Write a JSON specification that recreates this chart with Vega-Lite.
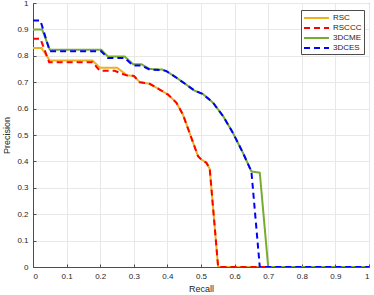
{
  "$schema": "https://vega.github.io/schema/vega-lite/v6.json",
  "width": 336,
  "height": 264,
  "autosize": {"type": "none"},
  "padding": {"left": 33, "top": 3, "right": 5, "bottom": 28},
  "background": "white",
  "config": {
    "view": {"stroke": "#4d4d4d", "strokeWidth": 1},
    "font": "Liberation Sans",
    "axis": {
      "gridColor": "#e8e8e8",
      "gridWidth": 1,
      "domainColor": "#4d4d4d",
      "tickColor": "#4d4d4d",
      "tickSize": -3,
      "labelFont": "Liberation Sans",
      "labelFontSize": 8,
      "labelColor": "#262626",
      "titleFont": "Liberation Sans",
      "titleFontSize": 9,
      "titleFontWeight": "normal",
      "titleColor": "#262626"
    }
  },
  "data": {
    "values": [
      {"s": "RSC", "r": 0, "p": 0.83},
      {"s": "RSC", "r": 0.025, "p": 0.83},
      {"s": "RSC", "r": 0.05, "p": 0.782},
      {"s": "RSC", "r": 0.177, "p": 0.782},
      {"s": "RSC", "r": 0.199, "p": 0.755},
      {"s": "RSC", "r": 0.25, "p": 0.755},
      {"s": "RSC", "r": 0.28, "p": 0.726},
      {"s": "RSC", "r": 0.3, "p": 0.724},
      {"s": "RSC", "r": 0.318, "p": 0.70},
      {"s": "RSC", "r": 0.347, "p": 0.694},
      {"s": "RSC", "r": 0.377, "p": 0.672},
      {"s": "RSC", "r": 0.402, "p": 0.653},
      {"s": "RSC", "r": 0.427, "p": 0.622},
      {"s": "RSC", "r": 0.446, "p": 0.578},
      {"s": "RSC", "r": 0.466, "p": 0.508},
      {"s": "RSC", "r": 0.491, "p": 0.42},
      {"s": "RSC", "r": 0.501, "p": 0.407},
      {"s": "RSC", "r": 0.516, "p": 0.395},
      {"s": "RSC", "r": 0.526, "p": 0.372},
      {"s": "RSC", "r": 0.551, "p": 0},
      {"s": "RSC", "r": 1, "p": 0},
      {"s": "RSCCC", "r": 0, "p": 0.865},
      {"s": "RSCCC", "r": 0.022, "p": 0.865},
      {"s": "RSCCC", "r": 0.048, "p": 0.776},
      {"s": "RSCCC", "r": 0.177, "p": 0.776},
      {"s": "RSCCC", "r": 0.199, "p": 0.743},
      {"s": "RSCCC", "r": 0.243, "p": 0.743},
      {"s": "RSCCC", "r": 0.278, "p": 0.726},
      {"s": "RSCCC", "r": 0.3, "p": 0.724},
      {"s": "RSCCC", "r": 0.318, "p": 0.70},
      {"s": "RSCCC", "r": 0.347, "p": 0.694},
      {"s": "RSCCC", "r": 0.377, "p": 0.672},
      {"s": "RSCCC", "r": 0.402, "p": 0.653},
      {"s": "RSCCC", "r": 0.427, "p": 0.622},
      {"s": "RSCCC", "r": 0.446, "p": 0.578},
      {"s": "RSCCC", "r": 0.466, "p": 0.508},
      {"s": "RSCCC", "r": 0.491, "p": 0.42},
      {"s": "RSCCC", "r": 0.501, "p": 0.407},
      {"s": "RSCCC", "r": 0.516, "p": 0.395},
      {"s": "RSCCC", "r": 0.526, "p": 0.372},
      {"s": "RSCCC", "r": 0.551, "p": 0},
      {"s": "RSCCC", "r": 1, "p": 0},
      {"s": "3DCME", "r": 0, "p": 0.9},
      {"s": "3DCME", "r": 0.027, "p": 0.9},
      {"s": "3DCME", "r": 0.05, "p": 0.823},
      {"s": "3DCME", "r": 0.203, "p": 0.823},
      {"s": "3DCME", "r": 0.223, "p": 0.797},
      {"s": "3DCME", "r": 0.273, "p": 0.797},
      {"s": "3DCME", "r": 0.298, "p": 0.768},
      {"s": "3DCME", "r": 0.323, "p": 0.768},
      {"s": "3DCME", "r": 0.347, "p": 0.75},
      {"s": "3DCME", "r": 0.385, "p": 0.748},
      {"s": "3DCME", "r": 0.397, "p": 0.742},
      {"s": "3DCME", "r": 0.427, "p": 0.717},
      {"s": "3DCME", "r": 0.457, "p": 0.69},
      {"s": "3DCME", "r": 0.481, "p": 0.668},
      {"s": "3DCME", "r": 0.506, "p": 0.655},
      {"s": "3DCME", "r": 0.536, "p": 0.622},
      {"s": "3DCME", "r": 0.566, "p": 0.571},
      {"s": "3DCME", "r": 0.595, "p": 0.508},
      {"s": "3DCME", "r": 0.625, "p": 0.432},
      {"s": "3DCME", "r": 0.65, "p": 0.362},
      {"s": "3DCME", "r": 0.675, "p": 0.357},
      {"s": "3DCME", "r": 0.70, "p": 0},
      {"s": "3DCME", "r": 1, "p": 0},
      {"s": "3DCES", "r": 0, "p": 0.934},
      {"s": "3DCES", "r": 0.022, "p": 0.934},
      {"s": "3DCES", "r": 0.05, "p": 0.817},
      {"s": "3DCES", "r": 0.203, "p": 0.817},
      {"s": "3DCES", "r": 0.223, "p": 0.792},
      {"s": "3DCES", "r": 0.273, "p": 0.792},
      {"s": "3DCES", "r": 0.298, "p": 0.763},
      {"s": "3DCES", "r": 0.323, "p": 0.763},
      {"s": "3DCES", "r": 0.347, "p": 0.748},
      {"s": "3DCES", "r": 0.385, "p": 0.746},
      {"s": "3DCES", "r": 0.397, "p": 0.742},
      {"s": "3DCES", "r": 0.427, "p": 0.717},
      {"s": "3DCES", "r": 0.457, "p": 0.69},
      {"s": "3DCES", "r": 0.481, "p": 0.668},
      {"s": "3DCES", "r": 0.506, "p": 0.655},
      {"s": "3DCES", "r": 0.536, "p": 0.622},
      {"s": "3DCES", "r": 0.566, "p": 0.571},
      {"s": "3DCES", "r": 0.595, "p": 0.508},
      {"s": "3DCES", "r": 0.625, "p": 0.432},
      {"s": "3DCES", "r": 0.65, "p": 0.362},
      {"s": "3DCES", "r": 0.675, "p": 0},
      {"s": "3DCES", "r": 1, "p": 0}
    ]
  },
  "encoding": {
    "x": {
      "field": "r", "type": "quantitative", "title": "Recall",
      "scale": {"domain": [0, 1], "nice": false},
      "axis": {"values": [0, 0.1, 0.2, 0.3, 0.4, 0.5, 0.6, 0.7, 0.8, 0.9, 1], "format": "~g", "labelPadding": 8, "titlePadding": 4}
    },
    "y": {
      "field": "p", "type": "quantitative", "title": "Precision",
      "scale": {"domain": [0, 1], "nice": false},
      "axis": {"values": [0, 0.1, 0.2, 0.3, 0.4, 0.5, 0.6, 0.7, 0.8, 0.9, 1], "format": "~g", "labelPadding": 8, "titlePadding": 5}
    },
    "color": {
      "field": "s", "type": "nominal", "title": null,
      "scale": {"domain": ["RSC", "RSCCC", "3DCME", "3DCES"], "range": ["#EDB120", "#FF0000", "#77AC30", "#0000FF"]},
      "legend": {
        "orient": "none", "legendX": 268, "legendY": 7,
        "symbolType": "M-1,0H4", "symbolSize": 100, "symbolStrokeWidth": 2,
        "labelFont": "Liberation Sans", "labelFontSize": 8, "labelColor": "#262626",
        "rowPadding": 0, "padding": 2, "labelOffset": 18,
        "strokeColor": "#4d4d4d", "fillColor": "white"
      }
    },
    "strokeDash": {
      "field": "s", "type": "nominal", "title": null,
      "scale": {"domain": ["RSC", "RSCCC", "3DCME", "3DCES"], "range": [[1, 0], [6, 4], [1, 0], [6, 4]]}
    }
  },
  "layer": [
    {"transform": [{"filter": "datum.s === 'RSC'"}], "mark": {"type": "line", "strokeWidth": 2, "clip": true}},
    {"transform": [{"filter": "datum.s === 'RSCCC'"}], "mark": {"type": "line", "strokeWidth": 2, "clip": true}},
    {"transform": [{"filter": "datum.s === '3DCME'"}], "mark": {"type": "line", "strokeWidth": 2, "clip": true}},
    {"transform": [{"filter": "datum.s === '3DCES'"}], "mark": {"type": "line", "strokeWidth": 2, "clip": true}}
  ]
}
